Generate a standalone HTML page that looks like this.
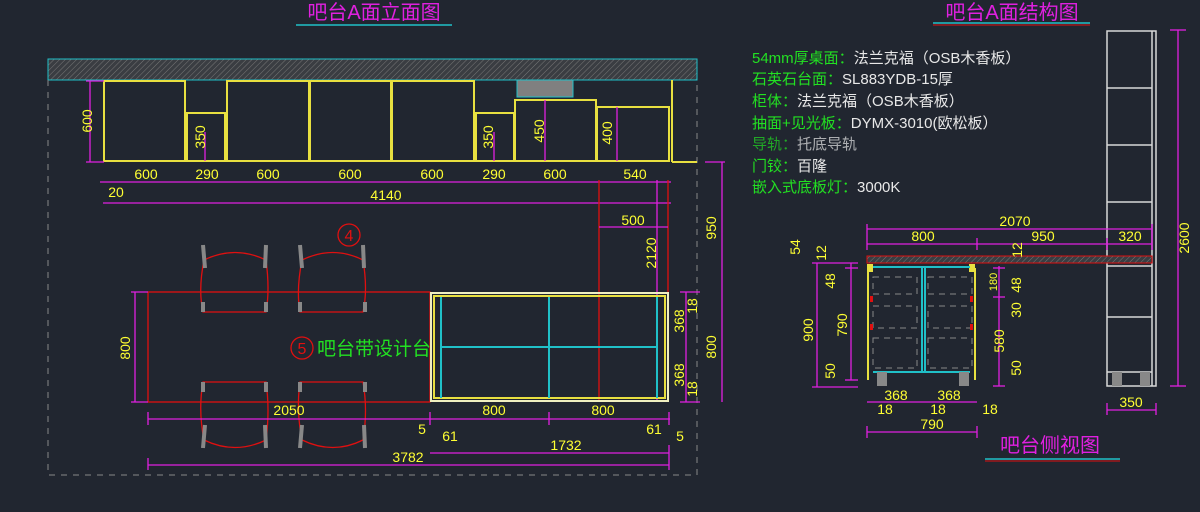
<!DOCTYPE html>
<html><head><meta charset="utf-8"><style>
html,body{margin:0;padding:0;background:#212630;}
svg{display:block}
text{font-family:"Liberation Sans","Noto Sans CJK SC",sans-serif;}
.y{fill:#ffff33;font-size:14px;text-anchor:middle;font-family:"Liberation Sans",sans-serif;font-stretch:condensed}
.m{stroke:#e020e0;stroke-width:1.3;fill:none}
.yl{stroke:#e8e040;stroke-width:2;fill:none}
.r{stroke:#e01010;stroke-width:1.3;fill:none}
.c{stroke:#20c0c8;stroke-width:2;fill:none}
.g{fill:#22e022;font-size:15px}
.w{fill:#e8e8e8;font-size:15px}
</style></head><body>
<svg width="1200" height="512" viewBox="0 0 1200 512" xmlns="http://www.w3.org/2000/svg">
<defs>
<pattern id="h" width="4" height="4" patternUnits="userSpaceOnUse" patternTransform="rotate(45)"><rect width="4" height="4" fill="#3a3d42"/><line x1="0" y1="0" x2="0" y2="4" stroke="#777" stroke-width="1"/></pattern>
</defs>
<rect width="1200" height="512" fill="#212630"/>
<!-- titles -->
<text x="374" y="19" font-size="20" fill="#e020e0" text-anchor="middle">吧台A面立面图</text>
<line x1="296" y1="25" x2="452" y2="25" stroke="#20c0c8" stroke-width="1.5"/>
<text x="1012" y="19" font-size="20" fill="#e020e0" text-anchor="middle">吧台A面结构图</text>
<line x1="933" y1="23" x2="1090" y2="23" stroke="#20c0c8" stroke-width="1.5"/><line x1="933" y1="25" x2="1090" y2="25" stroke="#e01010" stroke-width="1"/>
<text x="1050" y="452" font-size="20" fill="#e020e0" text-anchor="middle">吧台侧视图</text>
<line x1="985" y1="459" x2="1120" y2="459" stroke="#20c0c8" stroke-width="1.5"/><line x1="985" y1="461" x2="1120" y2="461" stroke="#e01010" stroke-width="1"/>

<!-- elevation -->
<rect x="48" y="59" width="649" height="21" fill="url(#h)" stroke="#20c0c8" stroke-width="1"/>
<path d="M48 80V475H697V80" stroke="#888" stroke-width="1" stroke-dasharray="6 6" fill="none"/>
<g class="yl">
<rect x="104" y="81" width="81" height="80"/><rect x="187" y="113" width="38" height="48"/>
<rect x="227" y="81" width="82" height="80"/><rect x="310" y="81" width="81" height="80"/><rect x="392" y="81" width="82" height="80"/>
<rect x="476" y="113" width="38" height="48"/><rect x="515" y="100" width="81" height="61"/><rect x="597" y="107" width="72" height="54"/>
<line x1="672" y1="80" x2="672" y2="162"/><line x1="672" y1="162" x2="697" y2="162"/>
</g>
<rect x="517" y="80" width="56" height="17" fill="#808080" stroke="#20c0c8"/>
<g class="m">
<line x1="90" y1="81" x2="90" y2="162"/><line x1="86" y1="81" x2="104" y2="81"/><line x1="86" y1="162" x2="104" y2="162"/>
<line x1="205" y1="132" x2="205" y2="161"/><line x1="494" y1="132" x2="494" y2="161"/><line x1="545" y1="100" x2="545" y2="161"/><line x1="617" y1="107" x2="617" y2="161"/>
<line x1="100" y1="182" x2="671" y2="182"/><line x1="103" y1="203" x2="671" y2="203"/>
</g>
<g fill="#ffff33" font-size="14" text-anchor="middle" font-family="Liberation Sans">
<text x="146" y="179">600</text><text x="207" y="179">290</text><text x="268" y="179">600</text><text x="350" y="179">600</text><text x="432" y="179">600</text><text x="494" y="179">290</text><text x="555" y="179">600</text><text x="635" y="179">540</text>
<text x="116" y="197">20</text><text x="386" y="200">4140</text>
<text transform="translate(92,121) rotate(-90)">600</text><text transform="translate(205,137) rotate(-90)">350</text><text transform="translate(493,137) rotate(-90)">350</text><text transform="translate(544,131) rotate(-90)">450</text><text transform="translate(612,133) rotate(-90)">400</text>
<text x="633" y="225">500</text><text transform="translate(656,253) rotate(-90)">2120</text><text transform="translate(716,228) rotate(-90)">950</text>
</g>
<g class="r"><line x1="599" y1="180" x2="599" y2="402"/><line x1="668" y1="180" x2="668" y2="402"/></g>
<g class="m"><line x1="657" y1="180" x2="657" y2="402"/><line x1="599" y1="227" x2="668" y2="227"/><line x1="722" y1="162" x2="722" y2="402"/><line x1="705" y1="162" x2="725" y2="162"/></g>

<!-- plan -->
<rect x="148" y="292" width="282" height="110" class="r"/>
<g class="r">
<path d="M203 312Q198 290 204 260Q235 245 266 260Q270 290 266 312Z"/><path d="M300 312Q296 290 302 260Q333 245 363 260Q368 290 363 312Z"/>
<path d="M203 382Q198 410 204 440Q235 455 266 440Q270 410 266 382Z"/><path d="M300 382Q296 410 302 440Q333 455 363 440Q368 410 363 382Z"/>
<circle cx="349" cy="235" r="11"/><circle cx="302" cy="348" r="11"/>
</g>
<g stroke="#888" stroke-width="4">
<line x1="203" y1="245" x2="205" y2="268"/><line x1="266" y1="245" x2="265" y2="268"/><line x1="300" y1="245" x2="302" y2="268"/><line x1="363" y1="245" x2="364" y2="268"/>
<line x1="203" y1="302" x2="203" y2="312"/><line x1="266" y1="302" x2="266" y2="312"/><line x1="300" y1="302" x2="300" y2="312"/><line x1="365" y1="302" x2="365" y2="312"/>
<line x1="203" y1="382" x2="203" y2="392"/><line x1="266" y1="382" x2="266" y2="392"/><line x1="300" y1="382" x2="300" y2="392"/><line x1="365" y1="382" x2="365" y2="392"/>
<line x1="205" y1="425" x2="203" y2="448"/><line x1="265" y1="425" x2="266" y2="448"/><line x1="302" y1="425" x2="300" y2="448"/><line x1="364" y1="425" x2="365" y2="448"/>
</g>
<text x="349" y="241" fill="#e01010" font-size="16" text-anchor="middle">4</text>
<text x="302" y="354" fill="#e01010" font-size="16" text-anchor="middle">5</text>
<text x="317" y="355" fill="#22e022" font-size="19">吧台带设计台</text>
<rect x="431" y="293" width="237" height="108" stroke="#f0f0c0" stroke-width="2" fill="none"/>
<rect x="434" y="296" width="231" height="102" class="yl" stroke-width="1"/>
<g class="c"><line x1="441" y1="297" x2="441" y2="398"/><line x1="549" y1="297" x2="549" y2="398"/><line x1="657" y1="297" x2="657" y2="398"/><line x1="441" y1="347" x2="657" y2="347"/></g>
<g class="m">
<line x1="135" y1="292" x2="135" y2="402"/><line x1="131" y1="292" x2="148" y2="292"/><line x1="131" y1="402" x2="148" y2="402"/>
<line x1="148" y1="419" x2="670" y2="419"/><line x1="148" y1="412" x2="148" y2="425"/><line x1="430" y1="412" x2="430" y2="425"/><line x1="549" y1="412" x2="549" y2="425"/><line x1="669" y1="412" x2="669" y2="425"/>
<line x1="430" y1="453" x2="669" y2="453"/><line x1="148" y1="465" x2="669" y2="465"/><line x1="669" y1="445" x2="669" y2="470"/><line x1="148" y1="458" x2="148" y2="470"/>
<line x1="686" y1="292" x2="686" y2="402"/><line x1="680" y1="292" x2="700" y2="292"/><line x1="680" y1="402" x2="700" y2="402"/>
</g>
<g fill="#ffff33" font-size="14" text-anchor="middle" font-family="Liberation Sans">
<text transform="translate(130,348) rotate(-90)">800</text>
<text x="289" y="415">2050</text><text x="494" y="415">800</text><text x="603" y="415">800</text>
<text x="422" y="434">5</text><text x="450" y="441">61</text><text x="654" y="434">61</text><text x="680" y="441">5</text>
<text x="566" y="450">1732</text><text x="408" y="462">3782</text>
<text transform="translate(697,306) rotate(-90)">18</text><text transform="translate(684,321) rotate(-90)">368</text><text transform="translate(684,375) rotate(-90)">368</text><text transform="translate(697,389) rotate(-90)">18</text><text transform="translate(716,347) rotate(-90)">800</text>
</g>

<!-- legend -->
<text x="752" y="63" class="g">54mm厚桌面：<tspan class="w">法兰克福（OSB木香板）</tspan></text>
<text x="752" y="84" class="g">石英石台面：<tspan class="w">SL883YDB-15厚</tspan></text>
<text x="752" y="106" class="g">柜体：<tspan class="w">法兰克福（OSB木香板）</tspan></text>
<text x="752" y="128" class="g">抽面+见光板：<tspan class="w">DYMX-3010(欧松板）</tspan></text>
<text x="752" y="149" class="g" fill-opacity="0.7">导轨：<tspan class="w">托底导轨</tspan></text>
<text x="752" y="171" class="g">门铰：<tspan class="w">百隆</tspan></text>
<text x="752" y="192" class="g">嵌入式底板灯：<tspan class="w">3000K</tspan></text>

<!-- tall cabinet -->
<g stroke="#d8d8d8" stroke-width="1.5" fill="none">
<rect x="1107" y="31" width="49" height="355"/><line x1="1152" y1="31" x2="1152" y2="386"/>
<line x1="1107" y1="88" x2="1152" y2="88"/><line x1="1107" y1="145" x2="1152" y2="145"/><line x1="1107" y1="202" x2="1152" y2="202"/>
<line x1="1107" y1="266" x2="1152" y2="266"/><line x1="1107" y1="317" x2="1152" y2="317"/><line x1="1107" y1="372" x2="1152" y2="372"/>
</g>
<g class="m"><line x1="1178" y1="30" x2="1178" y2="386"/><line x1="1170" y1="30" x2="1186" y2="30"/><line x1="1170" y1="386" x2="1186" y2="386"/><line x1="1107" y1="410" x2="1156" y2="410"/><line x1="1107" y1="403" x2="1107" y2="415"/><line x1="1156" y1="403" x2="1156" y2="415"/></g>
<rect x="1112" y="372" width="10" height="14" fill="#888"/><rect x="1140" y="372" width="10" height="14" fill="#888"/>
<!-- side view -->
<rect x="867" y="256" width="285" height="7" fill="url(#h)" stroke="#e01010" stroke-width="1"/>
<g class="yl"><line x1="868" y1="268" x2="868" y2="380"/><line x1="975" y1="268" x2="975" y2="380"/></g>
<rect x="867" y="264" width="6" height="8" fill="#e8e040"/><rect x="969" y="264" width="6" height="8" fill="#e8e040"/>
<g class="c" stroke-width="1.5"><line x1="873" y1="267" x2="970" y2="267"/><line x1="873" y1="372" x2="970" y2="372"/><line x1="922" y1="267" x2="922" y2="372"/><line x1="925" y1="267" x2="925" y2="372"/></g>
<g stroke="#888" stroke-dasharray="6 5" fill="none"><rect x="873" y="277" width="44" height="17"/><rect x="928" y="277" width="44" height="17"/><rect x="873" y="306" width="44" height="22"/><rect x="928" y="306" width="44" height="22"/><rect x="873" y="338" width="44" height="30"/><rect x="928" y="338" width="44" height="30"/></g>
<g fill="#e01010"><rect x="870" y="296" width="3" height="6"/><rect x="870" y="324" width="3" height="6"/><rect x="970" y="296" width="3" height="6"/><rect x="970" y="324" width="3" height="6"/></g>
<rect x="877" y="372" width="10" height="14" fill="#888"/><rect x="959" y="372" width="10" height="14" fill="#888"/>
<g class="m">
<line x1="867" y1="229" x2="1152" y2="229"/><line x1="867" y1="244" x2="1152" y2="244"/><line x1="867" y1="224" x2="867" y2="250"/><line x1="977" y1="238" x2="977" y2="250"/><line x1="1107" y1="238" x2="1107" y2="250"/><line x1="1152" y1="224" x2="1152" y2="250"/>
<line x1="817" y1="263" x2="817" y2="387"/><line x1="851" y1="263" x2="851" y2="380"/><line x1="812" y1="263" x2="858" y2="263"/><line x1="812" y1="387" x2="858" y2="387"/><line x1="845" y1="268" x2="858" y2="268"/><line x1="845" y1="380" x2="858" y2="380"/>
<line x1="999" y1="266" x2="999" y2="386"/><line x1="993" y1="268" x2="1005" y2="268"/><line x1="993" y1="297" x2="1005" y2="297"/><line x1="993" y1="386" x2="1005" y2="386"/>
<line x1="867" y1="402" x2="977" y2="402"/><line x1="867" y1="432" x2="977" y2="432"/><line x1="867" y1="426" x2="867" y2="438"/><line x1="977" y1="426" x2="977" y2="438"/>
</g>
<g fill="#ffff33" font-size="14" text-anchor="middle" font-family="Liberation Sans">
<text x="1015" y="226">2070</text><text x="923" y="241">800</text><text x="1043" y="241">950</text><text x="1130" y="241">320</text>
<text transform="translate(800,247) rotate(-90)">54</text><text transform="translate(826,253) rotate(-90)">12</text><text transform="translate(1022,250) rotate(-90)">12</text>
<text transform="translate(835,281) rotate(-90)">48</text><text transform="translate(813,330) rotate(-90)">900</text><text transform="translate(847,325) rotate(-90)">790</text><text transform="translate(835,371) rotate(-90)">50</text>
<text transform="translate(997,282) rotate(-90)" font-size="11">180</text><text transform="translate(1021,285) rotate(-90)">48</text><text transform="translate(1021,310) rotate(-90)">30</text><text transform="translate(1004,341) rotate(-90)">580</text><text transform="translate(1021,368) rotate(-90)">50</text>
<text x="896" y="400">368</text><text x="949" y="400">368</text><text x="885" y="414">18</text><text x="938" y="414">18</text><text x="990" y="414">18</text>
<text x="932" y="429">790</text><text x="1131" y="407">350</text><text transform="translate(1189,238) rotate(-90)">2600</text>
</g>
</svg>
</body></html>
